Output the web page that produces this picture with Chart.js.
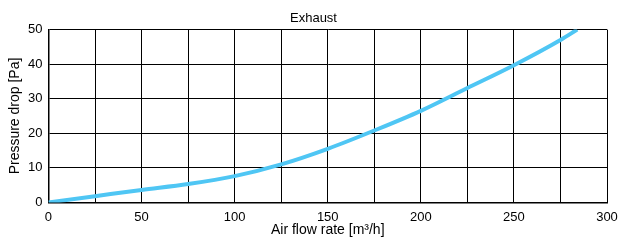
<!DOCTYPE html>
<html>
<head>
<meta charset="utf-8">
<script src="https://cdn.jsdelivr.net/npm/chart.js@4.4.1/dist/chart.umd.min.js"></script>
<style>
  html, body { margin: 0; padding: 0; background: #fff; }
  #wrap { width: 619px; height: 242px; position: relative; }
</style>
</head>
<body>
<div id="wrap"><canvas id="myChart"></canvas></div>
<script>
// values
var flowRates = [0, 25, 50, 75, 100, 125, 150, 175, 200, 225, 250, 275, 284];
var pressureDrop = [0, 1.8, 3.6, 5.3, 7.6, 11.0, 15.5, 20.8, 26.5, 33.1, 39.7, 47.0, 50];

document.addEventListener('DOMContentLoaded', function() {
    var ctx = document.getElementById('myChart').getContext('2d');
    Chart.defaults.font.family = '"Liberation Sans", Arial, sans-serif';
    Chart.defaults.color = '#000';

    var points = flowRates.map(function(x, i) { return { x: x, y: pressureDrop[i] }; });

    new Chart(ctx, {
        type: 'line',
        data: {
            datasets: [{
                label: 'Exhaust',
                data: points,
                borderColor: '#4fc6f4',
                borderWidth: 4,
                pointRadius: 0,
                cubicInterpolationMode: 'monotone',
                fill: false
            }]
        },
        options: {
            responsive: true,
            maintainAspectRatio: false,
            animation: false,
            layout: { padding: { left: 8, right: 0, top: 5, bottom: 5 } },
            plugins: {
                legend: { display: false },
                tooltip: { enabled: false },
                title: {
                    display: true,
                    text: 'Exhaust',
                    font: { size: 13, weight: 'normal' },
                    padding: { top: 6, bottom: 3 }
                }
            },
            scales: {
                x: {
                    type: 'linear',
                    min: 0,
                    max: 300,
                    border: { color: '#000', width: 1.5 },
                    grid: { color: '#000', lineWidth: 1, drawTicks: false },
                    afterFit: function(scale) {
                        // only leave room for half of the "300" label
                        scale.paddingRight = 12;
                    },
                    ticks: {
                        stepSize: 25,
                        padding: 7,
                        maxRotation: 0,
                        font: { size: 13 },
                        callback: function(v) { return v % 50 === 0 ? v : ''; }
                    },
                    title: {
                        display: true,
                        text: 'Air flow rate [m³/h]',
                        font: { size: 14, lineHeight: 1 },
                        padding: { top: -9, bottom: 0 }
                    }
                },
                y: {
                    min: 0,
                    max: 50,
                    border: { color: '#000', width: 1.5 },
                    grid: { color: '#000', lineWidth: 1, drawTicks: false },
                    ticks: {
                        stepSize: 5,
                        padding: 6,
                        font: { size: 13 },
                        callback: function(v) { return v % 10 === 0 ? v : ''; }
                    },
                    title: {
                        display: true,
                        text: 'Pressure drop [Pa]',
                        font: { size: 14, lineHeight: 1 },
                        padding: { top: 0, bottom: 0 }
                    }
                }
            }
        }
    });
});
</script>
</body>
</html>
